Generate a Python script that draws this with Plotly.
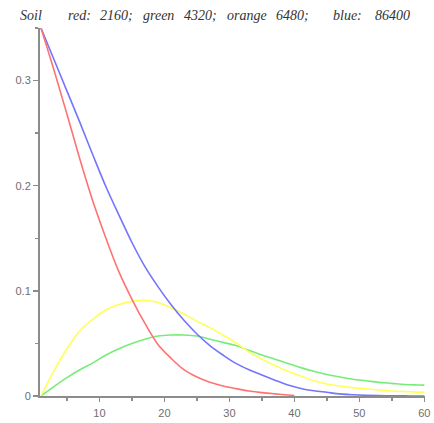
import plotly.graph_objects as go

# ---- data ----
red_x = [1, 3, 5, 7, 9, 11, 13, 15, 17, 19, 21, 23, 25, 27, 29, 31, 33, 35, 37, 39, 40]
red_y = [0.350, 0.310, 0.268, 0.225, 0.185, 0.150, 0.118, 0.092, 0.069, 0.049, 0.036,
         0.025, 0.018, 0.013, 0.0095, 0.007, 0.0048, 0.0032, 0.002, 0.001, 0.0005]

blue_x = [1, 3, 5, 7, 9, 11, 13, 15, 17, 19, 21, 23, 25, 27, 29, 31, 33, 35, 37, 39,
          41, 43, 45, 47, 49, 51, 53, 55, 57, 59, 60]
blue_y = [0.350, 0.320, 0.290, 0.260, 0.229, 0.199, 0.172, 0.146, 0.123, 0.104, 0.087,
          0.072, 0.059, 0.048, 0.039, 0.031, 0.025, 0.020, 0.015, 0.0105, 0.0072, 0.005,
          0.0035, 0.002, 0.0012, 0.0007, 0.0004, 0.0002, 0.0001, 0.0, 0.0]

yellow_x = [1, 3, 5, 7, 9, 11, 13, 15, 17, 19, 21, 23, 25, 27, 29, 31, 33, 35, 37, 39,
            41, 43, 45, 47, 49, 51, 53, 55, 57, 59, 60]
yellow_y = [0.0, 0.024, 0.045, 0.062, 0.073, 0.082, 0.087, 0.090, 0.091, 0.089, 0.084,
            0.078, 0.071, 0.065, 0.058, 0.0505, 0.042, 0.035, 0.029, 0.0235, 0.019,
            0.0145, 0.0115, 0.0095, 0.008, 0.0068, 0.0057, 0.0048, 0.0042, 0.0037, 0.0035]

green_x = [1, 3, 5, 7, 9, 11, 13, 15, 17, 19, 21, 23, 25, 27, 29, 31, 33, 35, 37, 39,
           41, 43, 45, 47, 49, 51, 53, 55, 57, 59, 60]
green_y = [0.0, 0.009, 0.0175, 0.025, 0.0315, 0.039, 0.045, 0.050, 0.054, 0.057, 0.058,
           0.058, 0.057, 0.054, 0.051, 0.048, 0.0435, 0.039, 0.035, 0.031, 0.027, 0.0235,
           0.0205, 0.018, 0.016, 0.0145, 0.013, 0.012, 0.011, 0.0105, 0.0103]

x_ticks = [10, 20, 30, 40, 50, 60]
y_ticks = [0, 0.1, 0.2, 0.3]
y_tick_text = ["0", "0.1", "0.2", "0.3"]

title_words = ["Soil", "red:", "2160;", "green", "4320;", "orange", "6480;", "blue:", "86400"]
title_left_px = [18, 66, 99, 142, 184, 227, 277, 335, 377]

# ---- figure ----
fig = go.Figure()
series = [
    (green_x, green_y, "#78ec78"),
    (yellow_x, yellow_y, "#ffff58"),
    (blue_x, blue_y, "#7474ff"),
    (red_x, red_y, "#ff7272"),
]
for xs, ys, col in series:
    fig.add_trace(go.Scatter(x=xs, y=ys, mode="lines",
                             line=dict(color=col, width=1.6, shape="spline", smoothing=1.0),
                             hoverinfo="skip", showlegend=False))

axis_col = "#8c8c8c"
tick_font = dict(family="Liberation Sans, Arial, sans-serif", size=11, color="#6e6e6e")

fig.update_xaxes(range=[0.85, 60.1], tickvals=x_ticks, ticks="outside", ticklen=4,
                 tickwidth=1.5, tickcolor=axis_col, showline=True, linecolor=axis_col,
                 linewidth=2, showgrid=False, zeroline=False, tickfont=tick_font,
                 ticklabelstandoff=2, ticklabeloverflow="allow",
                 minor=dict(dtick=5, tick0=0, ticks="outside", ticklen=3,
                            tickwidth=1.5, tickcolor=axis_col, showgrid=False))
fig.update_yaxes(range=[0, 0.35], tickvals=y_ticks, ticktext=y_tick_text, ticks="outside",
                 ticklen=5, tickwidth=1.5, tickcolor=axis_col, showline=True,
                 linecolor=axis_col, linewidth=2, showgrid=False, zeroline=False,
                 tickfont=tick_font,
                 minor=dict(dtick=0.05, tick0=0, ticks="outside", ticklen=3,
                            tickwidth=1.5, tickcolor=axis_col, showgrid=False))

for word, px in zip(title_words, title_left_px):
    fig.add_annotation(text=word, xref="paper", yref="paper",
                       x=(px - 40) / 390, y=1 + (28 - 15) / 373, xanchor="left",
                       yanchor="middle", showarrow=False,
                       font=dict(family="Liberation Serif, Times New Roman, serif",
                                 size=14, color="#333333", style="italic"))

fig.update_layout(width=434, height=423, margin=dict(l=40, r=4, t=28, b=22),
                  paper_bgcolor="white", plot_bgcolor="white")

fig.write_html("out.html",
               config={"displayModeBar": False, "staticPlot": True},
               post_script="document.body.style.margin='0';"
                           "document.body.style.overflow='hidden';")
